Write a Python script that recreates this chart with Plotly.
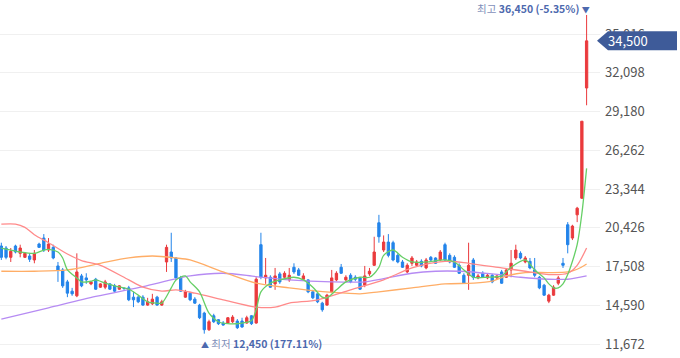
import plotly.graph_objects as go

# ---------------- data ----------------
day_index = list(range(125))

opens = [19050, 18900, 18200, 19050, 18500, 18200, 18300, 18000, 19200, 19650,
         18750, 18950, 17550, 17250, 16350, 15650, 15300, 16800, 16650, 16200,
         16550, 15950, 15950, 16200, 16050, 15800, 15850, 15900, 15200, 15200,
         15200, 14600, 14700, 15200, 14600, 17850, 18600, 18150, 16650, 15200,
         15500, 15050, 14600, 14000, 12750, 13800, 13500, 13250, 13250, 13350,
         13400, 13400, 13250, 13800, 13250, 19150, 16650, 16700, 16200, 16950,
         16700, 16500, 17450, 17250, 16550, 16500, 15600, 15450, 14750, 14600,
         15600, 16500, 17450, 16500, 16850, 16700, 16650, 16100, 16950, 17600,
         20800, 18750, 19350, 19300, 18350, 17850, 17100, 17750, 17600, 17900,
         17400, 18200, 18150, 18000, 19150, 18350, 18200, 17600, 16850, 16850,
         18000, 16650, 17000, 16650, 16850, 16650, 17100, 16700, 17250, 18150,
         18500, 17850, 17900, 17250, 16700, 16100, 14900, 15350, 16250, 17750,
         20650, 19650, 21400, 22650, 30950]

highs = [19300, 19050, 18900, 19150, 19150, 18600, 18500, 18750, 19300, 19950,
         19650, 19150, 17850, 17400, 16500, 15900, 18500, 16950, 17000, 16400,
         16650, 16250, 16500, 16250, 16200, 16100, 15950, 16050, 15600, 15300,
         15350, 15150, 15450, 15300, 15000, 19150, 20050, 18200, 16800, 15750,
         15600, 15200, 14700, 14100, 13500, 13950, 13550, 13400, 13700, 13850,
         13550, 13650, 13800, 13850, 16700, 20050, 18150, 16850, 17400, 17100,
         17150, 17400, 17750, 17400, 17000, 16550, 15750, 15500, 14850, 15450,
         17250, 17150, 17700, 16850, 17000, 16850, 16700, 17550, 17400, 19750,
         21400, 19850, 19950, 19450, 18500, 18000, 17750, 18300, 18000, 18050,
         18150, 18300, 18200, 18750, 19300, 18500, 18350, 17750, 17000, 19300,
         18150, 16950, 17150, 17000, 16950, 16850, 17250, 17400, 18750, 19150,
         18650, 18300, 18150, 18150, 16800, 16200, 15450, 16100, 16800, 18150,
         20850, 20650, 22000, 28450, 36450]

lows = [18000, 18050, 17850, 18500, 18200, 18150, 17850, 17750, 18900, 18600,
        18600, 18050, 16350, 15900, 15200, 15300, 15200, 15950, 16200, 16100,
        15750, 15900, 15800, 15750, 15600, 15750, 15750, 14900, 14450, 14750,
        14550, 14550, 14600, 14550, 14550, 17100, 17850, 16500, 15600, 15150,
        14900, 14700, 13550, 12450, 12650, 13250, 13100, 13050, 13200, 13250,
        12800, 12900, 13200, 13100, 13200, 16550, 16200, 15900, 15750, 16200,
        16550, 16350, 16950, 16800, 16500, 15500, 15050, 14750, 14100, 14550,
        15500, 16400, 16950, 16400, 16250, 16400, 15750, 15950, 16800, 17550,
        19300, 18600, 18200, 17900, 17750, 17400, 17000, 17550, 17550, 17450,
        17300, 17900, 17700, 17900, 17850, 17750, 17400, 16950, 16200, 15750,
        16500, 16550, 16650, 16550, 16250, 16550, 16200, 16650, 16700, 18000,
        18050, 17750, 17300, 16700, 15800, 15300, 14750, 15300, 16100, 17400,
        18500, 19500, 20850, 22600, 29650]

closes = [18200, 18200, 18650, 18600, 18900, 18500, 18050, 18500, 18950, 18750,
          19200, 18150, 17250, 16050, 15500, 15450, 17100, 16050, 16500, 16350,
          15800, 16200, 16350, 15800, 15650, 16050, 15850, 15000, 15000, 14850,
          14600, 14850, 15050, 14600, 14850, 18950, 18150, 16650, 15650, 15600,
          15000, 14750, 13650, 12750, 13350, 13350, 13200, 13100, 13650, 13700,
          12900, 12950, 13650, 13200, 16550, 16700, 16850, 15950, 16800, 16350,
          17000, 16850, 17100, 16850, 16800, 15600, 15150, 14850, 14250, 15350,
          16650, 17000, 17000, 16700, 16350, 16550, 15800, 16800, 17150, 18600,
          19750, 19350, 18350, 18000, 17850, 17450, 17600, 18150, 17850, 17550,
          18000, 18000, 17750, 18600, 18000, 17850, 17450, 17000, 16250, 17600,
          16700, 16800, 16700, 16850, 16350, 16800, 16250, 17250, 17750, 18750,
          18150, 18150, 17400, 16850, 15900, 15350, 15350, 15950, 16650, 17600,
          19150, 20550, 21900, 28450, 34500]

# moving-average lines, read at sample days
ma5_days = [0, 2, 4, 7, 9, 10, 12, 13, 14, 16, 17, 19, 20, 22, 24, 27, 29, 31, 33, 34,
            36, 37, 39, 40, 42, 44, 46, 48, 51, 53, 54, 55, 57, 59, 62, 64, 66, 68, 69,
            71, 73, 76, 78, 80, 81, 83, 85, 87, 90, 94, 96, 98, 100, 103, 106, 108, 111,
            113, 115, 116, 117, 118, 119, 120, 121, 122, 123, 124]
ma5_vals = [18900, 18750, 18600, 18500, 18750, 18800, 18600, 18150, 17250, 16650, 16350,
            16400, 16500, 16250, 16050, 15800, 15350, 14850, 14750, 14750, 15900, 16500,
            16800, 16350, 15600, 14000, 13350, 13200, 13250, 13450, 14250, 15600, 16250,
            16500, 16700, 16500, 15950, 15200, 15150, 15750, 16350, 16700, 16700, 17450,
            18350, 18750, 18200, 17850, 17850, 18000, 17850, 17250, 16700, 16700, 16800,
            17450, 18000, 17250, 16650, 16200, 15900, 15900, 16200, 16900, 17900, 19150,
            21500, 24900]

ma20_days = [0, 3, 5, 7, 10, 14, 17, 21, 27, 30, 34, 37, 41, 47, 54, 58, 61, 67, 74, 81,
             87, 94, 99, 106, 111, 116, 120, 122, 124]
ma20_vals = [20700, 20700, 20450, 19900, 19300, 18450, 17950, 17600, 16500, 15950, 15650,
             15750, 15500, 15000, 14450, 14450, 14750, 15000, 15750, 16500, 17400, 17900,
             17750, 17400, 17150, 16900, 17000, 17600, 18900]

ma60_days = [0, 7, 14, 21, 27, 32, 37, 40, 47, 54, 61, 67, 73, 76, 80, 87, 94, 100, 104,
             107, 111, 116, 120, 122, 124]
ma60_vals = [17150, 17150, 17250, 17750, 18150, 18300, 18150, 18000, 17100, 16250, 15900,
             15650, 15500, 15450, 15600, 15900, 16200, 16250, 16400, 16800, 17050, 17050,
             17100, 17300, 17700]

ma120_days = [0, 10, 20, 30, 40, 47, 54, 61, 70, 77, 81, 87, 92, 97, 104, 110, 116, 120, 124]
ma120_vals = [13550, 14400, 15250, 16000, 16800, 17000, 16750, 16500, 16350, 16350, 16600,
              17000, 17150, 17150, 16950, 16700, 16550, 16550, 16800]

y_ticks = [11672, 14590, 17508, 20426, 23344, 26262, 29180, 32098, 35016]
y_tick_labels = ["11,672", "14,590", "17,508", "20,426", "23,344", "26,262",
                 "29,180", "32,098", "35,016"]

# ---------------- styling ----------------
RED = "#ea3a3d"
BLUE = "#2384ea"
FONT = "Noto Sans CJK KR"

fig = go.Figure()

fig.add_trace(go.Candlestick(
    x=day_index, open=opens, high=highs, low=lows, close=closes,
    increasing=dict(line=dict(color=RED, width=1), fillcolor=RED),
    decreasing=dict(line=dict(color=BLUE, width=1), fillcolor=BLUE),
    whiskerwidth=0, hoverinfo="skip", showlegend=False,
))

for days, vals, col in [(ma120_days, ma120_vals, "#b68bf3"),
                        (ma60_days, ma60_vals, "#ffad66"),
                        (ma20_days, ma20_vals, "#ff8a8a"),
                        (ma5_days, ma5_vals, "#66cf66")]:
    fig.add_trace(go.Scatter(x=days, y=vals, mode="lines",
                             line=dict(color=col, width=1.3, shape="spline", smoothing=0.8),
                             hoverinfo="skip", showlegend=False))

last_close = closes[-1]
hi_val = max(highs)
lo_val = min(lows)
hi_day = highs.index(hi_val)
lo_day = lows.index(lo_val)
pct_hi = (last_close / hi_val - 1) * 100
pct_lo = (last_close / lo_val - 1) * 100

fig.add_annotation(
    x=hi_day, y=hi_val, xref="x", yref="y", showarrow=False,
    xanchor="right", yanchor="bottom", xshift=5, yshift=-3,
    text=(f"<span style='color:#7f8fba'>최고</span> <b>{hi_val:,} ({pct_hi:.2f}%)</b> "
          f"<span style='font-size:8px'>▼</span>"),
    font=dict(family=FONT, size=10.5, color="#4d69ae"),
)
fig.add_annotation(
    x=lo_day, y=lo_val, xref="x", yref="y", showarrow=False,
    xanchor="left", yanchor="top", xshift=-5, yshift=0,
    text=(f"<span style='font-size:8px'>▲</span> <span style='color:#7f8fba'>최저</span> "
          f"<b>{lo_val:,} ({pct_lo:.2f}%)</b>"),
    font=dict(family=FONT, size=10.5, color="#4d69ae"),
)

# current price badge
fig.add_shape(
    type="path", xref="paper", yref="y", xsizemode="pixel", ysizemode="pixel",
    xanchor=1, yanchor=last_close,
    path="M -3,0 L 8,9.5 L 77,9.5 L 77,-9.5 L 8,-9.5 Z",
    fillcolor="#3e5b99", line=dict(width=0), layer="above",
)
fig.add_annotation(
    x=1, y=last_close, xref="paper", yref="y", showarrow=False,
    xanchor="left", yanchor="middle", xshift=6,
    text=f"{last_close:,}", font=dict(family=FONT, size=13, color="white"),
)

fig.update_layout(
    width=680, height=358,
    margin=dict(l=0, r=80, t=0, b=0),
    paper_bgcolor="white", plot_bgcolor="white",
    showlegend=False,
    xaxis=dict(range=[-0.28, 126.84], showgrid=False, zeroline=False,
               showticklabels=False, rangeslider=dict(visible=False), fixedrange=True),
    yaxis=dict(range=[10618, 37578], side="right", tickvals=y_ticks, ticktext=y_tick_labels,
               showgrid=True, gridcolor="#f0f0f0", gridwidth=1, zeroline=False,
               ticks="", ticklen=0, ticklabelstandoff=4, automargin=False,
               tickfont=dict(family=FONT, size=13, color="#555555")),
)

fig.write_html("out.html", config={"displayModeBar": False},
               post_script="document.body.style.margin='0';document.body.style.overflow='hidden';")
